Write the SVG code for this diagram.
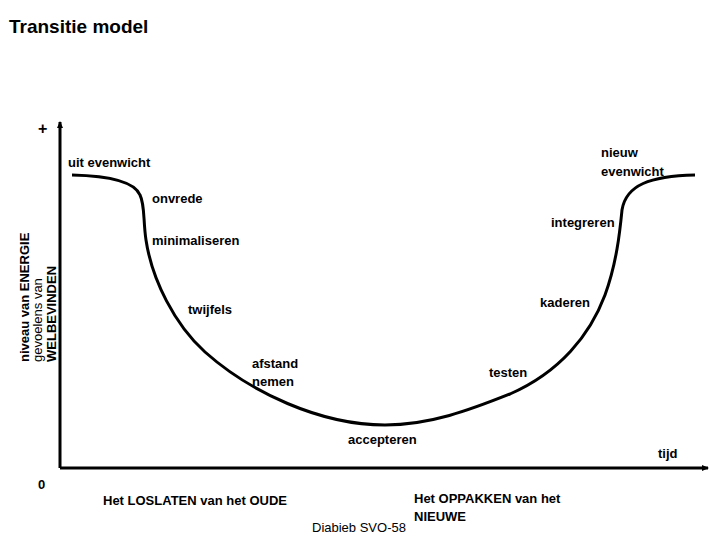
<svg xmlns="http://www.w3.org/2000/svg" width="720" height="540" viewBox="0 0 720 540">
<style>
text{font-family:"Liberation Sans",Arial,sans-serif;font-weight:bold;font-size:13px;fill:#000}
.t{font-size:19px}
.n{font-weight:normal;font-size:13px}
</style>
<defs><marker id="a" markerWidth="8" markerHeight="8" refX="6" refY="4" orient="auto" markerUnits="userSpaceOnUse"><path d="M0,1 L7,4 L0,7 z" fill="#000"/></marker></defs>
<rect width="720" height="540" fill="#fff"/>
<text x="9" y="33" class="t">Transitie model</text>
<g id="connectors" fill="none" stroke="#000">
<path d="M60,468 V122" stroke-width="3" marker-end="url(#a)"/>
<path d="M60,468 H708" stroke-width="3" marker-end="url(#a)"/>
<path d="M72,175 C115,176 135,183 140,195 C145,205 143,220 146,240 C152,280 175,325 205,352 C250,392 320,425 385,425 C430,425 470,410 510,394 C560,372 590,335 605,295 C617,262 620,230 622,210 C626,185 650,176 695,175" stroke-width="3"/>
</g>
<g id="labels">
<text x="38" y="134" style="font-size:16px">+</text>
<text x="38" y="489">0</text>
<text x="68" y="167">uit evenwicht</text>
<text x="601" y="157">nieuw</text>
<text x="601" y="176">evenwicht</text>
<text x="152" y="203">onvrede</text>
<text x="551" y="227">integreren</text>
<text x="152" y="245">minimaliseren</text>
<text x="188" y="314">twijfels</text>
<text x="540" y="307">kaderen</text>
<text x="252" y="368">afstand</text>
<text x="252" y="386">nemen</text>
<text x="489" y="377">testen</text>
<text x="348" y="444">accepteren</text>
<text x="658" y="458">tijd</text>
<text x="103" y="505">Het LOSLATEN van het OUDE</text>
<text x="414" y="503">Het OPPAKKEN van het</text>
<text x="414" y="521">NIEUWE</text>
<text x="312" y="532" class="n">Diabieb SVO-58</text>
<g transform="rotate(-90)">
<text x="-362" y="29">niveau van ENERGIE</text>
<text x="-362" y="42" class="n">gevoelens van</text>
<text x="-362" y="56">WELBEVINDEN</text>
</g>
</g>
</svg>
